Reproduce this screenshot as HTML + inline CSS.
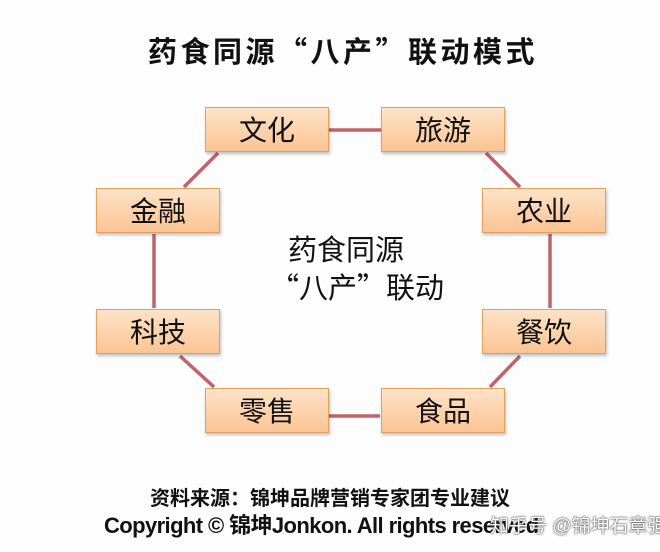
<!DOCTYPE html>
<html><head><meta charset="utf-8"><style>
html,body{margin:0;padding:0;background:#fdfdfd;}
body{width:660px;height:552px;position:relative;overflow:hidden;font-family:"Liberation Sans","Noto Sans CJK SC",sans-serif;}
.t{position:absolute;white-space:nowrap;}
.c{font-family:"Noto Sans CJK SC",sans-serif;}
.b{position:absolute;width:124px;height:45px;border:1px solid #e0a060;background:linear-gradient(#fde3c8,#fbc494);box-shadow:1px 2px 3px rgba(0,0,0,0.25);font-size:28px;text-align:center;line-height:45px;color:#111;box-sizing:border-box;}
</style></head><body>
<svg width="660" height="552" style="position:absolute;left:0;top:0">
<g stroke="#c0646a" stroke-width="3.5">
<line x1="328" y1="130" x2="381" y2="130"/>
<line x1="486" y1="153" x2="520" y2="187"/>
<line x1="550" y1="234" x2="550" y2="308"/>
<line x1="520" y1="356" x2="490" y2="387"/>
<line x1="329" y1="416" x2="380" y2="416"/>
<line x1="214" y1="387" x2="180" y2="356"/>
<line x1="154" y1="234" x2="154" y2="308"/>
<line x1="184" y1="187" x2="218" y2="153"/>
</g>
</svg>
<div class="t c" style="left:148px;top:30px;font-size:29px;font-weight:bold;color:#111;line-height:40px;letter-spacing:3.5px;">药食同源“八产”联动模式</div>
<div class="b" style="left:205px;top:107px">文化</div>
<div class="b" style="left:381px;top:107px">旅游</div>
<div class="b" style="left:96px;top:188px">金融</div>
<div class="b" style="left:482px;top:188px">农业</div>
<div class="b" style="left:96px;top:309px">科技</div>
<div class="b" style="left:482px;top:309px">餐饮</div>
<div class="b" style="left:205px;top:388px">零售</div>
<div class="b" style="left:381px;top:388px">食品</div>
<div class="t c" style="left:288px;top:228px;font-size:29px;color:#111;line-height:40px;">药食同源</div>
<div class="t c" style="left:270px;top:266px;font-size:29px;color:#111;line-height:40px;">“八产”联动</div>
<div class="t" style="left:150px;top:482px;font-size:20px;font-weight:bold;color:#111;">资料来源：锦坤品牌营销专家团专业建议</div>
<div class="t" style="left:104px;top:508px;font-size:22px;font-weight:bold;color:#111;letter-spacing:-0.6px;">Copyright © 锦坤Jonkon. All rights reserved</div>
<div class="t" style="left:490px;top:511px;font-size:19px;color:#fff;text-shadow:0 0 2px #444,0 0 1px #222;">知乎号 @锦坤石章强</div>
</body></html>
